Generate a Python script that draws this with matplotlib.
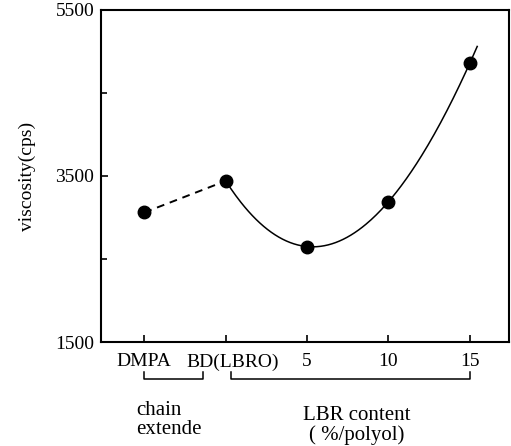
import numpy as np
import matplotlib
matplotlib.use("Agg")
from matplotlib import pyplot as plt
from matplotlib.transforms import ScaledTranslation

# data
labels = ["DMPA", "BD(LBRO)", "5", "10", "15"]
viscosity = [3060, 3440, 2650, 3190, 4860]

plt.rcParams['font.family'] = ['Liberation Serif', 'DejaVu Serif']

fig = plt.figure(figsize=(5.11, 4.46), dpi=100)
ax = fig.add_axes([0.198, 0.233, 0.798, 0.745])

xs = np.arange(len(labels))

# dashed segment between the two chain extenders
ax.plot(xs[:2], viscosity[:2], 'k--', lw=1.4, dashes=(4, 3))

# smooth curve through the LBR points
coef = np.polyfit(xs[1:], viscosity[1:], 3)
t = np.linspace(1, 4.09, 200)
ax.plot(t, np.polyval(coef, t), 'k-', lw=1.1)

ax.plot(xs, viscosity, 'ko', ms=9)

ax.set_xlim(-0.53, 4.48)
ax.set_ylim(1500, 5500)
ax.set_yticks([1500, 3500, 5500])
ax.set_yticks([2500, 4500], minor=True)
ax.set_xticks(xs)
ax.set_xticklabels(labels)
ax.tick_params(direction='in', length=5, width=1.2, labelsize=14, pad=8)
ax.tick_params(axis='y', labelsize=14, pad=5)
ax.tick_params(which='minor', direction='in', length=4, width=1.2)
for s in ax.spines.values():
    s.set_linewidth(1.5)
ax.set_ylabel("viscosity(cps)", fontsize=14, labelpad=14)

# BD(LBRO) sits a bit right of its tick in the original
lab = ax.get_xticklabels()[1]
lab.set_transform(lab.get_transform() + ScaledTranslation(0.07, 0, fig.dpi_scale_trans))

# brackets under the axis
def bracket(x0, x1, y, h=0.02):
    tr = ax.get_xaxis_transform()
    ax.plot([x0, x0, x1, x1], [y + h, y, y, y + h], 'k-', lw=1.1,
            transform=tr, clip_on=False)

bracket(0.0, 0.72, -0.111)
bracket(1.07, 4.0, -0.111)

tr = ax.get_xaxis_transform()
ax.text(-0.1, -0.178, "chain\nextende", transform=tr, fontsize=15,
        ha='left', va='top', linespacing=1.0)
ax.text(2.61, -0.193, "LBR content\n( %/polyol)", transform=tr, fontsize=15,
        ha='center', va='top', linespacing=1.0)

fig.savefig("out.png", dpi=100)
